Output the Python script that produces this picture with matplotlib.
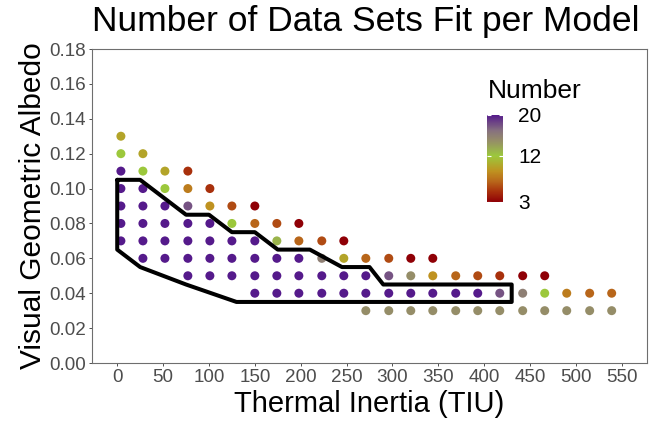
import numpy as np
import matplotlib
matplotlib.use("Agg")
import matplotlib.pyplot as plt
from matplotlib.colors import LinearSegmentedColormap, Normalize

plt.rcParams['font.family'] = ['Liberation Sans', 'DejaVu Sans']

# grid of model parameters: thermal inertia (columns) x albedo (rows)
ti_values = [4, 28, 52, 77, 101, 125, 150, 174, 198, 223, 247, 271,
             296, 320, 344, 369, 393, 417, 442, 466, 490, 515, 539]
albedo_values = [0.13, 0.12, 0.11, 0.10, 0.09, 0.08, 0.07, 0.06, 0.05, 0.04, 0.03]

# number of data sets fit by each model (0 = model not shown)
counts = [
    [10, 0, 0, 0, 0, 0, 0, 0, 0, 0, 0, 0, 0, 0, 0, 0, 0, 0, 0, 0, 0, 0, 0],
    [12, 10, 0, 0, 0, 0, 0, 0, 0, 0, 0, 0, 0, 0, 0, 0, 0, 0, 0, 0, 0, 0, 0],
    [20, 12, 10, 5, 0, 0, 0, 0, 0, 0, 0, 0, 0, 0, 0, 0, 0, 0, 0, 0, 0, 0, 0],
    [20, 20, 12, 8, 5, 0, 0, 0, 0, 0, 0, 0, 0, 0, 0, 0, 0, 0, 0, 0, 0, 0, 0],
    [20, 20, 20, 18, 9, 6, 3, 0, 0, 0, 0, 0, 0, 0, 0, 0, 0, 0, 0, 0, 0, 0, 0],
    [20, 20, 20, 20, 20, 12, 7, 6, 3, 0, 0, 0, 0, 0, 0, 0, 0, 0, 0, 0, 0, 0, 0],
    [20, 20, 20, 20, 20, 20, 20, 13, 7, 6, 3, 0, 0, 0, 0, 0, 0, 0, 0, 0, 0, 0, 0],
    [0, 20, 20, 20, 20, 20, 20, 20, 20, 16, 10, 7, 6, 3, 3, 0, 0, 0, 0, 0, 0, 0, 0],
    [0, 0, 0, 20, 20, 20, 20, 20, 20, 20, 20, 20, 18, 15, 9, 7, 6, 5, 3, 3, 0, 0, 0],
    [0, 0, 0, 0, 0, 0, 20, 20, 20, 20, 20, 20, 20, 20, 20, 20, 20, 18, 16, 12, 8, 7, 7],
    [0, 0, 0, 0, 0, 0, 0, 0, 0, 0, 0, 15, 15, 15, 15, 15, 15, 15, 15, 15, 15, 15, 15],
]

# outline of the best-fit region
region_ti = [0, 25, 75, 100, 125, 150, 175, 210, 245, 275, 290, 430, 430, 130, 75, 25, 0, 0]
region_albedo = [0.105, 0.105, 0.085, 0.085, 0.075, 0.075, 0.065, 0.065, 0.055,
                 0.055, 0.045, 0.045, 0.035, 0.035, 0.045, 0.055, 0.065, 0.105]

cbar_ticks = [3, 12, 20]

# long-form table of plotted points
tt, aa, nn = [], [], []
for i, alb in enumerate(albedo_values):
    for j, ti in enumerate(ti_values):
        if counts[i][j] > 0:
            tt.append(ti)
            aa.append(alb)
            nn.append(counts[i][j])

vmin, vmax = 3, 20
anchors = [(3, '#8f0006'), (5, '#a8300c'), (7, '#b8661a'), (9, '#bf9220'),
           (12, '#9cc83c'), (15, '#958d68'), (17, '#86707f'), (20, '#551a8b')]
cmap = LinearSegmentedColormap.from_list(
    'fits', [((v - vmin) / (vmax - vmin), c) for v, c in anchors])
norm = Normalize(vmin=vmin, vmax=vmax)

fig = plt.figure(figsize=(6.52, 4.26), dpi=100)
ax = fig.add_axes([92 / 652, 63 / 426, 555 / 652, 314 / 426])

sc = ax.scatter(tt, aa, c=nn, cmap=cmap, norm=norm, s=42, linewidths=0, zorder=2)
ax.plot(region_ti, region_albedo, color='black', lw=2.9,
        solid_joinstyle='round', solid_capstyle='round', zorder=3)

ax.set_xlim(-27.5, 577.5)
ax.set_ylim(0, 0.18)
ax.set_xticks(np.arange(0, 551, 50))
ax.set_yticks(np.arange(0, 0.181, 0.02))
ax.set_yticklabels([f"{v:.2f}" for v in np.arange(0, 0.181, 0.02)])
ax.tick_params(axis='both', labelsize=13.6, labelcolor='#4d4d4d',
               color='#333333', length=2.5, width=0.6, pad=2)
for sp in ax.spines.values():
    sp.set_color('#6e6e6e')
    sp.set_linewidth(0.8)

ax.set_xlabel('Thermal Inertia (TIU)', fontsize=21, labelpad=3)
ax.set_ylabel('Visual Geometric Albedo', fontsize=21.5, labelpad=1)

fig.text(366 / 652, 1 - 31 / 426, 'Number of Data Sets Fit per Model',
         fontsize=25.5, ha='center', va='baseline')

# colour legend
cax = fig.add_axes([487 / 652, (426 - 202) / 426, 16 / 652, 87 / 426])
cb = fig.colorbar(sc, cax=cax, ticks=cbar_ticks)
cb.outline.set_visible(False)
cax.tick_params(direction='in', color='white', length=3, width=0.8,
                labelsize=15, pad=11, left=True)
fig.text(488 / 652, 1 - 98 / 426, 'Number', fontsize=19, ha='left', va='baseline')

fig.savefig('out.png', dpi=100)
